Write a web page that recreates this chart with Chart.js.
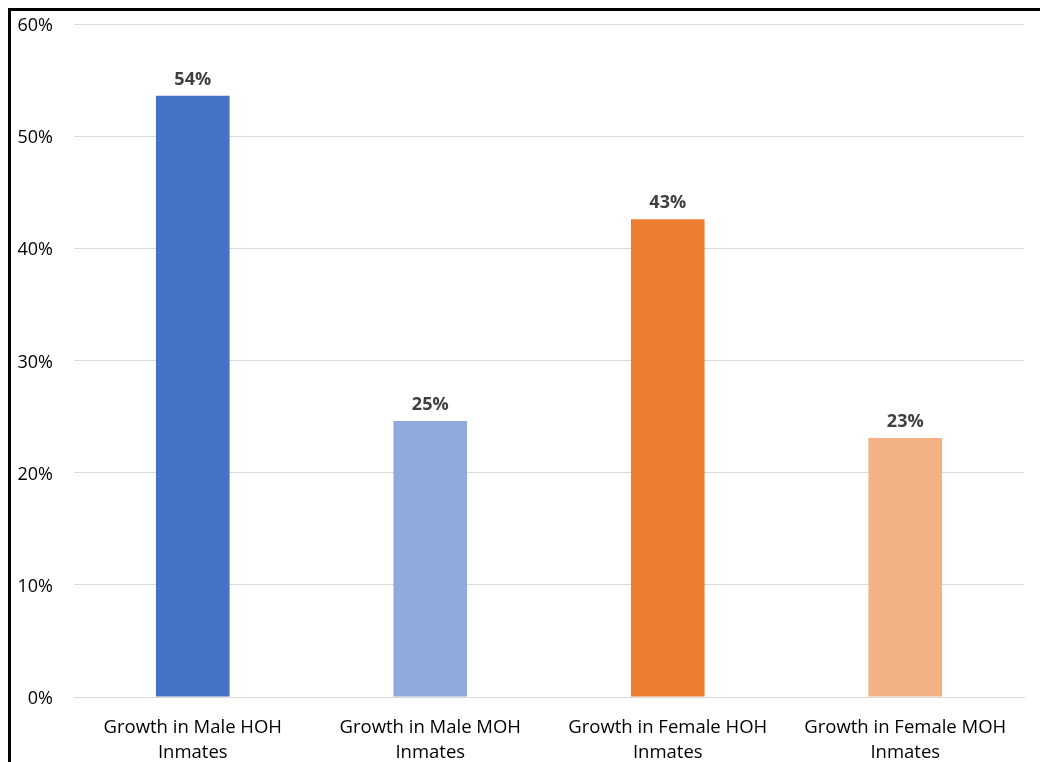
<!DOCTYPE html>
<html>
<head>
<meta charset="utf-8">
<script src="https://cdn.jsdelivr.net/npm/chart.js@4"></script>
<style>
  html, body { margin: 0; padding: 0; background: #fff; }
  #wrap { position: relative; width: 1040px; height: 762px; overflow: hidden; }
  #frame { position: absolute; left: 8px; top: 8px; width: 1100px; height: 800px;
           border-left: 3px solid #000; border-top: 3px solid #000; box-sizing: border-box; }
  canvas { position: absolute; left: 0; top: 0; }
</style>
</head>
<body>
<div id="wrap">
  <div id="frame"></div>
  <canvas id="myChart" width="1040" height="762"></canvas>
</div>
<script>
// categories and values (fractions)
const categories = [
  ["Growth in Male HOH", "Inmates"],
  ["Growth in Male MOH", "Inmates"],
  ["Growth in Female HOH", "Inmates"],
  ["Growth in Female MOH", "Inmates"],
];
const growth = [0.536, 0.246, 0.426, 0.231];
const valueLabels = ["54%", "25%", "43%", "23%"];
const barColors = ["#4472C4", "#8FAADC", "#ED7D31", "#F4B183"];
const yTicks = [0, 0.1, 0.2, 0.3, 0.4, 0.5, 0.6];

const FONT = "'Open Sans', sans-serif";

// bold labels over each bar
const barLabels = {
  id: "barLabels",
  afterDatasetsDraw(chart) {
    const ctx = chart.ctx;
    const meta = chart.getDatasetMeta(0);
    ctx.save();
    ctx.font = "bold 18px " + FONT;
    ctx.fillStyle = "#404040";
    ctx.textAlign = "center";
    ctx.textBaseline = "bottom";
    meta.data.forEach((bar, i) => {
      ctx.fillText(valueLabels[i], bar.x, bar.y - 7);
    });
    ctx.restore();
  },
};

const ctx = document.getElementById("myChart");
new Chart(ctx, {
  type: "bar",
  data: {
    labels: categories,
    datasets: [
      {
        data: growth,
        backgroundColor: barColors,
        borderWidth: 0,
        categoryPercentage: 1,
        barPercentage: 0.31,
      },
    ],
  },
  options: {
    responsive: false,
    animation: false,
    devicePixelRatio: 1,
    layout: { padding: { top: 24, right: 16, left: 0, bottom: 0 } },
    plugins: {
      legend: { display: false },
      tooltip: { enabled: false },
    },
    scales: {
      x: {
        grid: { display: false, drawTicks: false },
        border: { color: "#d9d9d9", width: 1 },
        ticks: {
          color: "#000",
          font: { family: FONT, size: 18.5, lineHeight: 1.35 },
          padding: 18,
          maxRotation: 0,
          autoSkip: false,
        },
        afterFit(scale) {
          scale.height = 65;
          scale.paddingLeft = 0;
          scale.paddingRight = 0;
        },
      },
      y: {
        min: 0,
        max: 0.6,
        afterBuildTicks(scale) { scale.ticks = yTicks.map((v) => ({ value: v })); },
        grid: { color: "#d9d9d9", drawTicks: false },
        border: { display: false },
        ticks: {
          color: "#000",
          font: { family: FONT, size: 18 },
          padding: 21,
          labelOffset: 2,
          callback: (v) => Math.round(v * 100) + "%",
        },
        afterFit(scale) {
          scale.width = 74;
          scale.paddingTop = 0;
          scale.paddingBottom = 0;
        },
      },
    },
  },
  plugins: [barLabels],
});
</script>
</body>
</html>
